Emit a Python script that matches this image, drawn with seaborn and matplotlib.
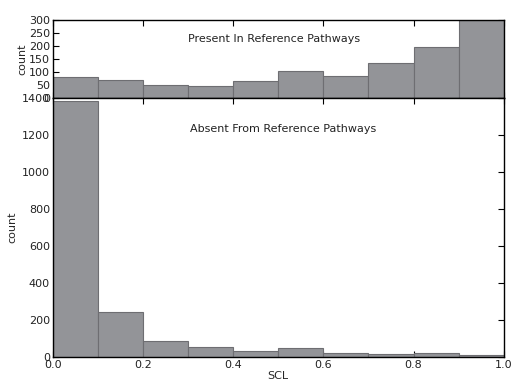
import matplotlib
matplotlib.use("Agg")
import matplotlib.pyplot as plt
import numpy as np
import seaborn as sns

# counts per SCL bin (0.0-0.1, ..., 0.9-1.0)
bin_edges = [0.0, 0.1, 0.2, 0.3, 0.4, 0.5, 0.6, 0.7, 0.8, 0.9, 1.0]
present_counts = [79, 69, 51, 47, 66, 105, 83, 135, 196, 300]
absent_counts = [1382, 243, 86, 55, 34, 50, 19, 15, 23, 12]
present_label = "Present In Reference Pathways"
absent_label = "Absent From Reference Pathways"

sns.set_style("white")
plt.rcParams["font.family"] = ["DejaVu Sans"]
plt.rcParams["font.size"] = 8
plt.rcParams["text.color"] = "#222222"

bar_color = "#939498"
edge_color = "#6e6e72"
centers = [(a + b) / 2 for a, b in zip(bin_edges[:-1], bin_edges[1:])]

fig = plt.figure(figsize=(5.13, 3.83), dpi=100)
ax_top = fig.add_axes([0.103, 0.744, 0.879, 0.204])
ax_bot = fig.add_axes([0.103, 0.068, 0.879, 0.676])

sns.histplot(x=centers, weights=present_counts, bins=bin_edges, ax=ax_top,
             color=bar_color, edgecolor=edge_color, linewidth=0.8, alpha=1)
sns.histplot(x=centers, weights=absent_counts, bins=bin_edges, ax=ax_bot,
             color=bar_color, edgecolor=edge_color, linewidth=0.8, alpha=1)

ax_top.set_xlim(0, 1)
ax_top.set_ylim(0, 300)
ax_top.set_yticks([0, 50, 100, 150, 200, 250, 300])
ax_top.set_xticks([0, 0.2, 0.4, 0.6, 0.8, 1.0])
ax_top.set_xticklabels([])
ax_top.set_ylabel("count", labelpad=1)
ax_top.text(0.49, 0.75, present_label, transform=ax_top.transAxes,
            ha="center", va="center", fontsize=8)

ax_bot.set_xlim(0, 1)
ax_bot.set_ylim(0, 1400)
ax_bot.set_yticks([0, 200, 400, 600, 800, 1000, 1200, 1400])
ax_bot.set_xticks([0, 0.2, 0.4, 0.6, 0.8, 1.0])
ax_bot.set_xticklabels(["0.0", "0.2", "0.4", "0.6", "0.8", "1.0"])
ax_bot.set_xlabel("SCL", labelpad=1)
ax_bot.set_ylabel("count", labelpad=3)
ax_bot.text(0.51, 0.88, absent_label, transform=ax_bot.transAxes,
            ha="center", va="center", fontsize=8)

for ax in (ax_top, ax_bot):
    for s in ax.spines.values():
        s.set_color("black")
        s.set_linewidth(1.0)
    ax.tick_params(direction="in", length=4, width=0.8, top=True, right=True,
                   bottom=True, left=True, labelsize=8, pad=2,
                   colors="black", labelcolor="#222222")

fig.savefig("out.png", dpi=100)
